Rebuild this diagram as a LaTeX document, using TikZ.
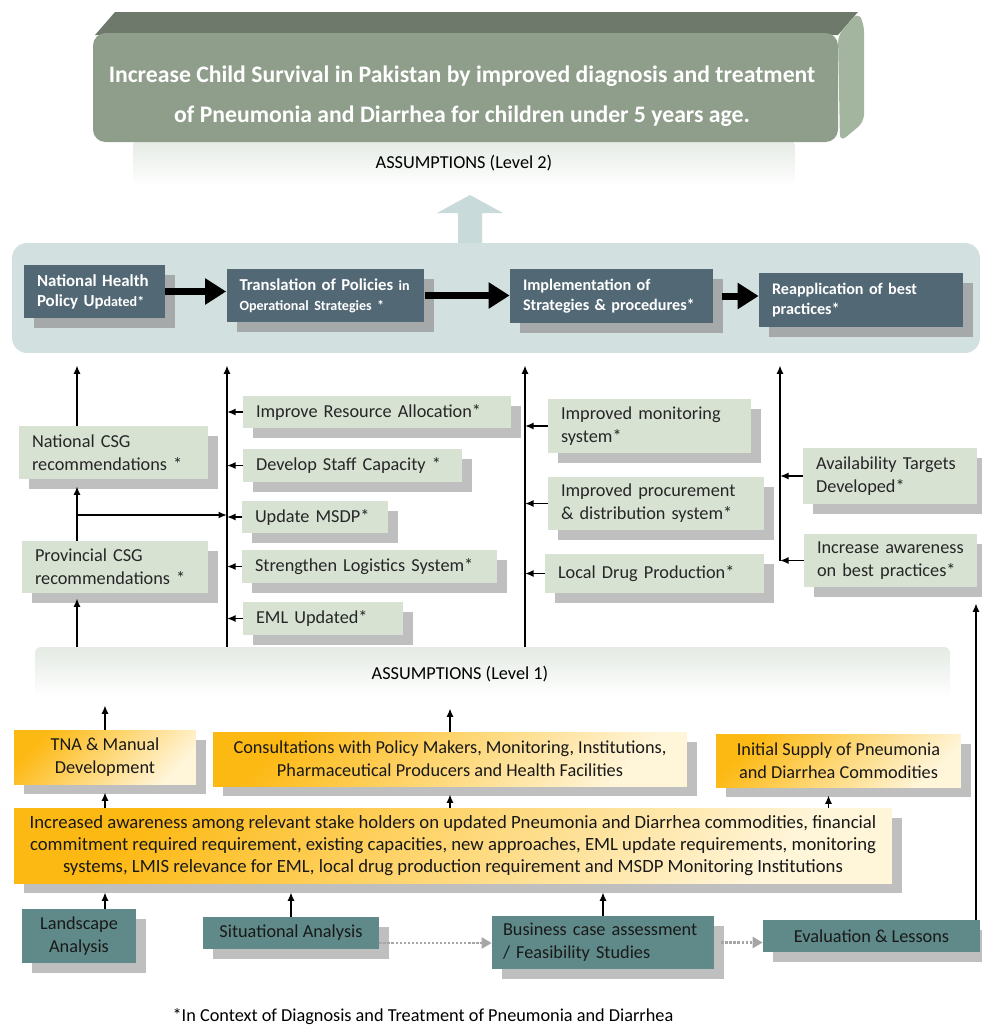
\documentclass[tikz,border=0pt]{standalone}
\usepackage{fontspec}
\setmainfont{Carlito}
\usetikzlibrary{arrows.meta,shadows}
\definecolor{goalFront}{HTML}{8E9E8A}
\definecolor{goalTop}{HTML}{6E796B}
\definecolor{goalSide}{HTML}{A3B49F}
\definecolor{panelBlue}{HTML}{D2E0E0}
\definecolor{upBlue}{HTML}{C8DADA}
\definecolor{slate}{HTML}{526875}
\definecolor{slateShadow}{HTML}{A6A9A9}
\definecolor{paleGreen}{HTML}{D7E2D3}
\definecolor{boxShadow}{HTML}{BFBFBF}
\definecolor{tealBox}{HTML}{5F8A89}
\definecolor{orangeA}{HTML}{FDB913}
\definecolor{orangeB}{HTML}{FFF5D9}
\definecolor{assumTop}{HTML}{E4EAE4}
\newcommand{\bodyfont}{\fontsize{10.4}{13}\selectfont}
\newcommand{\smallbold}{\fontsize{8}{11}\selectfont}
\hyphenpenalty=10000
\exhyphenpenalty=10000

\begin{document}
\begin{tikzpicture}[x=0.02cm,y=-0.02cm,
    every node/.style={font=\bodyfont},
    goaltext/.style={text=white,align=center,font=\fontsize{13.5}{23}\selectfont\bfseries},
    assum/.style={top color=assumTop,bottom color=white,rounded corners=0.12cm,inner sep=0pt},
    panel/.style={fill=panelBlue,rounded corners=0.3cm,inner sep=0pt},
    stage/.style={fill=slate,text=white,align=left,inner xsep=0.26cm,inner ysep=0pt,
        font=\fontsize{9.2}{11.5}\selectfont\bfseries,
        drop shadow={shadow xshift=0.2cm,shadow yshift=-0.2cm,fill=slateShadow,opacity=1}},
    outcome/.style={fill=paleGreen,text=black!85,align=left,inner xsep=0.26cm,inner ysep=0pt,
        drop shadow={shadow xshift=0.2cm,shadow yshift=-0.2cm,fill=boxShadow,opacity=1}},
    activity/.style={top color=orangeA,bottom color=orangeB,shading angle=45,align=center,inner sep=0pt,
        text=black!90,drop shadow={shadow xshift=0.2cm,shadow yshift=-0.2cm,fill=boxShadow,opacity=1}},
    source/.style={fill=tealBox,text=black!90,align=center,inner xsep=0.22cm,inner ysep=0pt,
        drop shadow={shadow xshift=0.2cm,shadow yshift=-0.2cm,fill=boxShadow,opacity=1}},
    flow/.style={line width=0.14cm,-{Triangle[length=0.42cm,width=0.5cm]}},
    feed/.style={line width=0.9pt,-{Latex[length=0.17cm,width=0.14cm]}},
    dotflow/.style={gray!70,line width=1.3pt,densely dotted,-{Triangle[length=0.2cm,width=0.22cm]}}]
\useasboundingbox (0,0) rectangle (982,1025);

\node[assum,minimum width=13.24cm,minimum height=0.96cm] (asmB) at (464,163) {ASSUMPTIONS (Level 2)};

\fill[goalTop] (95,35) -- (115,12) -- (858,12) -- (838,35) -- cycle;
\fill[goalSide,rounded corners=0.15cm] (838,35) -- (858,12) -- (864,24) -- (864,122) -- (840,142) -- cycle;
\fill[goalFront,rounded corners=0.25cm] (93,33) rectangle (838,142);
\node[goaltext] (goal) at (462,96) {Increase Child Survival in Pakistan by improved diagnosis and treatment\\of Pneumonia and Diarrhea for children under 5 years age.};

\fill[upBlue] (458,243) -- (458,213) -- (437,213) -- (470,195) -- (503,213) -- (482,213) -- (482,243) -- cycle;
\node[panel,minimum width=19.36cm,minimum height=2.2cm] (lvl2) at (496,298) {};

\node[stage,text width=2.30cm,minimum height=1.06cm] (nhp) at (94.5,291.5) {{\fontsize{9.6}{11.5}\selectfont National Health}\\{\fontsize{9.6}{11.5}\selectfont Policy Up}{\smallbold dated*}};
\node[stage,text width=3.44cm,minimum height=1.06cm] (trans) at (325.5,295.5) {{\fontsize{9.5}{11.5}\selectfont Translation of Policies} {\smallbold in}\\{\smallbold Operational Strategies *}};
\node[stage,text width=3.54cm,minimum height=1.08cm] (impl) at (611.5,296) {Implementation of\\Strategies \& procedures*};
\node[stage,text width=3.56cm,minimum height=1.08cm] (reap) at (861,300) {Reapplication of best\\practices*};
\draw[flow] (nhp.east) -- (nhp.east -| trans.west);
\draw[flow] (trans.east) -- (trans.east -| impl.west);
\draw[flow,shorten <=0.18cm] (impl.east) -- (impl.east -| reap.west);

\coordinate (colA) at (77,0);
\coordinate (colB) at (227,0);
\coordinate (colC) at (525,0);
\coordinate (colD) at (780,0);
\coordinate (colE) at (976,0);

\node[outcome,text width=3.26cm,minimum height=1.06cm] (ncsg) at (113.5,452.5) {National CSG\\recommendations *};
\node[outcome,text width=3.20cm,minimum height=1.04cm] (pcsg) at (115,567) {Provincial CSG\\recommendations *};

\node[outcome,text width=4.84cm,minimum height=0.64cm] (res) at (377,412) {Improve Resource Allocation*};
\node[outcome,text width=3.86cm,minimum height=0.66cm] (staff) at (352.5,465.5) {Develop Staff Capacity *};
\node[outcome,text width=2.40cm,minimum height=0.64cm] (msdp) at (315,517) {Update MSDP*};
\node[outcome,text width=4.58cm,minimum height=0.66cm] (logi) at (369.5,566.5) {Strengthen Logistics System*};
\node[outcome,text width=2.68cm,minimum height=0.66cm] (eml) at (323,618.5) {EML Updated*};

\node[outcome,text width=3.54cm,minimum height=1.08cm] (mon) at (649.5,426) {Improved monitoring\\system*};
\node[outcome,text width=3.80cm,minimum height=1.06cm] (proc) at (656,503.5) {Improved procurement\\\& distribution system*};
\node[outcome,text width=3.86cm,minimum height=0.78cm] (drug) at (654.5,573.5) {Local Drug Production*};

\node[outcome,text width=2.96cm,minimum height=1.12cm] (avail) at (890,476) {Availability Targets\\Developed*};
\node[outcome,text width=2.94cm,minimum height=1.06cm] (aware) at (890.5,560.5) {Increase awareness\\on best practices*};

\node[assum,minimum width=18.3cm,minimum height=1cm] (asmA) at (492.5,672) {};
\node (asmAtext) at (460,674) {ASSUMPTIONS (Level 1)};

\draw[feed] (asmA.north -| colA) -- ([yshift=-0.1cm]pcsg.south -| colA);
\draw[feed] (pcsg.north -| colA) -- ([yshift=-0.14cm]ncsg.south -| colA);
\draw[feed] (ncsg.north -| colA) -- ([yshift=-0.24cm]lvl2.south -| colA);
\coordinate (fork) at (77,515);
\draw[feed] (fork) -- (fork -| colB);
\draw[feed] (asmA.north -| colB) -- ([yshift=-0.24cm]lvl2.south -| colB);
\draw[feed] (asmA.north -| colC) -- ([yshift=-0.24cm]lvl2.south -| colC);
\draw[feed] (aware.west -| colD) -- ([yshift=-0.24cm]lvl2.south -| colD);
\foreach \b in {res,staff,msdp,logi,eml}
    \draw[feed] (\b.west) -- (\b.west -| colB);
\foreach \b in {mon,proc,drug}
    \draw[feed] (\b.west) -- (\b.west -| colC);
\foreach \b in {avail,aware}
    \draw[feed] (\b.west) -- (\b.west -| colD);

\node[activity,minimum width=3.64cm,minimum height=1.08cm] (tna) at (105,757) {TNA \& Manual\\Development};
\node[activity,minimum width=9.48cm,minimum height=1.08cm] (cons) at (450,759) {Consultations with Policy Makers, Monitoring, Institutions,\\Pharmaceutical Producers and Health Facilities};
\node[activity,minimum width=4.9cm,minimum height=1.06cm] (init) at (838.5,760.5) {Initial Supply of Pneumonia\\and Diarrhea Commodities};
\node[activity,minimum width=17.56cm,minimum height=1.5cm,font=\fontsize{10.65}{12.5}\selectfont] (stake) at (453,845.5) {Increased awareness among relevant stake holders on updated Pneumonia and Diarrhea commodities, financial\\commitment required requirement, existing capacities, new approaches, EML update requirements, monitoring\\systems, LMIS relevance for EML, local drug production requirement and MSDP Monitoring Institutions};

\draw[feed] (tna.north) -- ([yshift=-0.16cm]asmA.south -| tna.north);
\draw[feed] (cons.north) -- ([yshift=-0.22cm]asmA.south -| cons.north);
\draw[feed] (stake.north -| tna) -- ([yshift=-0.16cm]tna.south);
\draw[feed] (stake.north -| cons) -- ([yshift=-0.16cm]cons.south);
\draw[feed] ([xshift=-0.2cm]init.south |- stake.north) -- ([xshift=-0.2cm,yshift=-0.16cm]init.south);

\node[source,minimum width=2.28cm,minimum height=1.08cm] (land) at (79,936) {Landscape\\Analysis};
\node[source,minimum width=3.52cm,minimum height=0.64cm] (situ) at (291,933) {Situational Analysis};
\node[source,text width=4.0cm,align=left,minimum height=1.06cm] (bus) at (603,942.5) {Business case assessment\\/ Feasibility Studies};
\node[source,minimum width=4.34cm,minimum height=0.64cm] (eval) at (871.5,936) {Evaluation \& Lessons};

\draw[feed] (land.north -| tna) -- ([yshift=-0.18cm]stake.south -| tna);
\draw[feed] (situ.north) -- ([yshift=-0.18cm]stake.south -| situ.north);
\draw[feed] (bus.north) -- ([yshift=-0.18cm]stake.south -| bus.north);
\draw[dotflow] ([yshift=-0.2cm]situ.east) -- ([yshift=-0.2cm]situ.east -| bus.west);
\draw[dotflow,shorten <=0.14cm] (bus.east) -- (bus.east -| eval.west);
\draw[feed] (eval.north -| colE) -- ([yshift=-0.32cm]aware.south -| colE);

\node (note) at (423,1017) {*In Context of Diagnosis and Treatment of Pneumonia and Diarrhea};
\end{tikzpicture}
\end{document}
